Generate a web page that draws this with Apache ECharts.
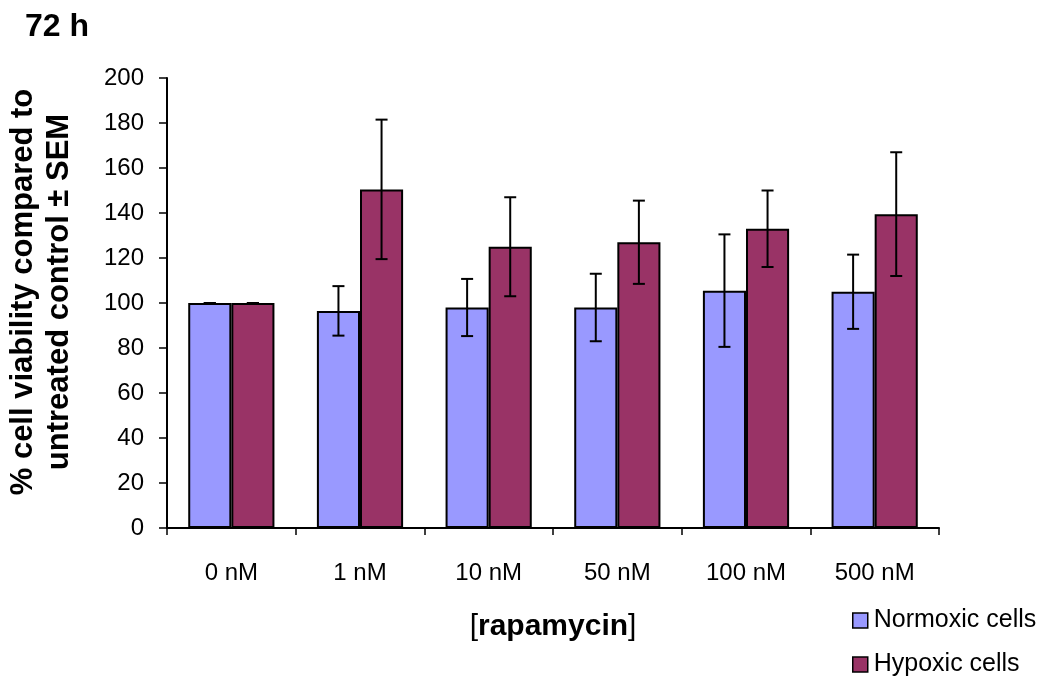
<!DOCTYPE html>
<html>
<head>
<meta charset="utf-8">
<script src="https://cdn.jsdelivr.net/npm/echarts@6/dist/echarts.min.js"></script>
<style>
html,body{margin:0;padding:0;background:#fff;}
#chart{width:1046px;height:677px;}
</style>
</head>
<body>
<div id="chart"></div>
<script>
// ---- data ----
var categories = ['0 nM', '1 nM', '10 nM', '50 nM', '100 nM', '500 nM'];
var normoxic = [100, 96.5, 98, 98, 105.5, 105];
var normoxicSEM = [0, 11, 12.7, 15, 25, 16.5];
var hypoxic = [100, 150.5, 125, 127, 133, 139.5];
var hypoxicSEM = [0, 31, 22, 18.5, 17, 27.5];
var yTicks = [0, 20, 40, 60, 80, 100, 120, 140, 160, 180, 200];
var seriesNames = ['Normoxic cells', 'Hypoxic cells'];

var FONT = '"Liberation Sans", Arial, sans-serif';
var GAP = 0.33;

function errData(vals, sem) {
  return vals.map(function (v, i) { return [i, v - sem[i], v + sem[i]]; });
}
function errSeries(name, vals, sem, side) {
  return {
    type: 'custom',
    name: name + ' SEM',
    z: 10,
    silent: true,
    renderItem: function (params, api) {
      var band = api.size([1, 0])[0];
      var barW = band * (1 - GAP) / 2;
      var cx = api.coord([api.value(0), 0])[0] + side * barW / 2;
      var lo = api.coord([api.value(0), api.value(1)])[1];
      var hi = api.coord([api.value(0), api.value(2)])[1];
      var cap = 6;
      var st = { stroke: '#000', lineWidth: 2 };
      return {
        type: 'group',
        children: [
          { type: 'line', shape: { x1: cx, y1: lo, x2: cx, y2: hi }, style: st },
          { type: 'line', shape: { x1: cx - cap, y1: hi, x2: cx + cap, y2: hi }, style: st },
          { type: 'line', shape: { x1: cx - cap, y1: lo, x2: cx + cap, y2: lo }, style: st }
        ]
      };
    },
    encode: { x: 0, y: [1, 2] },
    data: errData(vals, sem)
  };
}

function legendFor(name, top) {
  return {
    orient: 'vertical',
    left: 847,
    top: top,
    itemWidth: 15,
    itemHeight: 15,
    itemGap: 0,
    icon: 'rect',
    data: [name],
    itemStyle: { borderColor: '#000', borderWidth: 1.5 },
    textStyle: { fontFamily: FONT, fontSize: 25, color: '#000', padding: [0, 0, 0, 1] }
  };
}

var chart = echarts.init(document.getElementById('chart'));
chart.setOption({
  animation: false,
  backgroundColor: '#fff',
  textStyle: { fontFamily: FONT },
  title: {
    text: '72 h',
    left: 20,
    top: 6,
    textStyle: { fontFamily: FONT, fontSize: 32, fontWeight: 'bold', color: '#000' }
  },
  legend: [legendFor(seriesNames[0], 603), legendFor(seriesNames[1], 647)],
  grid: { left: 167, top: 78, right: 107, bottom: 149, containLabel: false },
  xAxis: {
    type: 'category',
    data: categories,
    boundaryGap: true,
    axisLine: { lineStyle: { color: '#000', width: 2 } },
    axisTick: { show: true, length: 7, lineStyle: { color: '#000', width: 1.5 } },
    axisLabel: { color: '#000', fontSize: 24, fontFamily: FONT, margin: 33 },
    name: '{b|[}{a|rapamycin}{b|]}',
    nameLocation: 'middle',
    nameGap: 84,
    nameTextStyle: {
      rich: {
        a: { fontFamily: FONT, fontSize: 30, fontWeight: 'bold', color: '#000' },
        b: { fontFamily: FONT, fontSize: 30, color: '#000' }
      }
    }
  },
  yAxis: {
    type: 'value',
    min: 0,
    max: 200,
    interval: 20,
    splitLine: { show: false },
    axisLine: { show: true, lineStyle: { color: '#000', width: 2 } },
    axisTick: { show: true, length: 8, lineStyle: { color: '#000', width: 1.5 } },
    axisLabel: {
      color: '#000', fontSize: 24, fontFamily: FONT, margin: 23,
      formatter: function (v) { return yTicks.indexOf(v) >= 0 ? String(v) : ''; }
    }
  },
  graphic: [{
    type: 'text',
    x: 41,
    y: 292,
    rotation: Math.PI / 2,
    style: {
      text: '% cell viability compared to\nuntreated control \u00b1 SEM',
      font: 'bold 31px ' + FONT,
      fill: '#000',
      align: 'center',
      verticalAlign: 'middle',
      lineHeight: 36
    }
  }],
  series: [
    {
      name: seriesNames[0],
      type: 'bar',
      data: normoxic,
      barGap: '0%',
      barCategoryGap: (GAP * 100) + '%',
      itemStyle: { color: '#9999FF', borderColor: '#000', borderWidth: 2 }
    },
    {
      name: seriesNames[1],
      type: 'bar',
      data: hypoxic,
      barGap: '0%',
      barCategoryGap: (GAP * 100) + '%',
      itemStyle: { color: '#993366', borderColor: '#000', borderWidth: 2 }
    },
    errSeries(seriesNames[0], normoxic, normoxicSEM, -1),
    errSeries(seriesNames[1], hypoxic, hypoxicSEM, 1)
  ]
});
</script>
</body>
</html>
